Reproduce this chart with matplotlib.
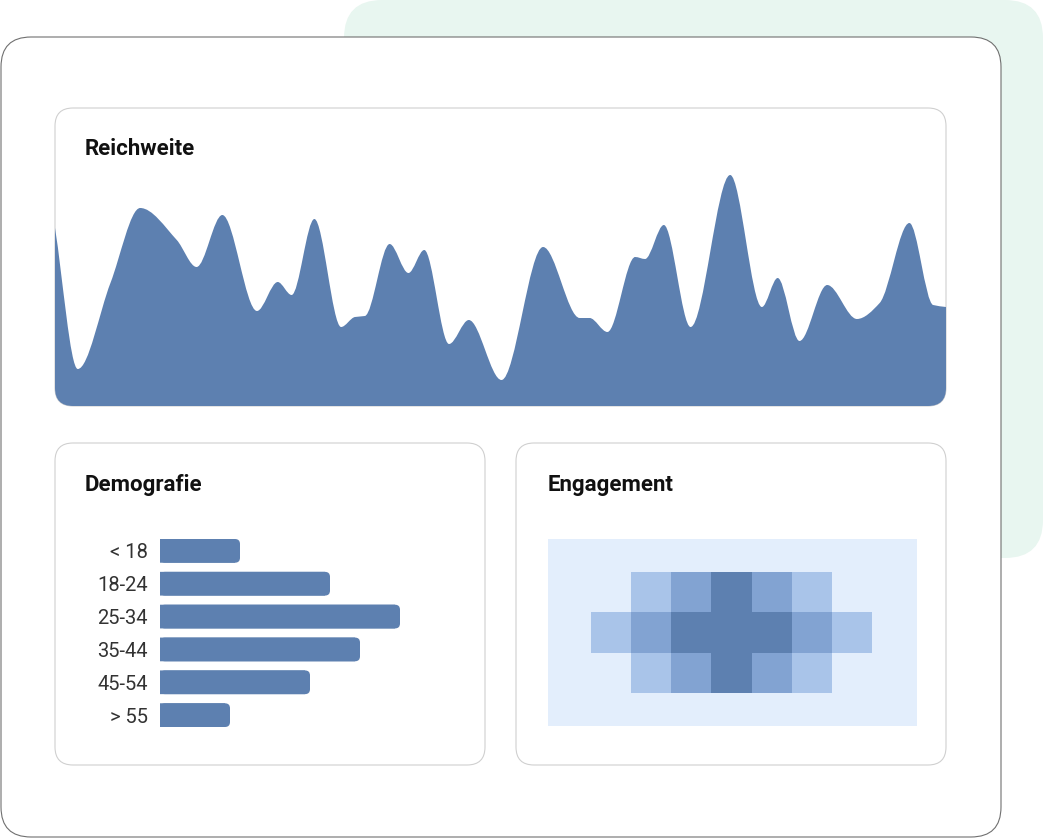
import numpy as np
import matplotlib.pyplot as plt
from matplotlib.patches import FancyBboxPatch, PathPatch
from matplotlib.path import Path
from matplotlib.colors import ListedColormap

W, H = 1043, 838
BLUE = '#5D80B0'
FONT = ['Roboto', 'DejaVu Sans']

# Reichweite (day, value)
reach_day = [0, 2.3, 5.6, 8.6, 12.3, 14.3, 16.9, 20.4, 22.5, 23.9, 26.2, 28.9,
             30.3, 31.3, 33.8, 35.7, 37.3, 39.8, 41.8, 45.1, 49.3, 53.0, 54.0,
             55.8, 58.6, 59.6, 61.5, 64.2, 68.2, 71.4, 73.0, 75.2, 78.0, 81.0,
             83.3, 86.3, 88.7, 90]
reach_value = [178, 37, 123, 198, 166, 139, 191, 95, 124, 111, 187, 79,
               89, 90, 162, 133, 156, 62, 86, 26, 159, 88, 88,
               74, 149, 147, 181, 79, 231, 99, 128, 65, 121, 87,
               103, 183, 101, 99]

# Demografie
age_groups = ['< 18', '18-24', '25-34', '35-44', '45-54', '> 55']
age_share = [8, 17, 24, 20, 15, 7]

# Engagement
engagement = [[0, 1, 2, 3, 2, 1, 0],
              [1, 2, 3, 3, 3, 2, 1],
              [0, 1, 2, 3, 2, 1, 0]]


def px_axes(fig, x0, y0, x1, y1):
    return fig.add_axes([x0 / W, 1 - y1 / H, (x1 - x0) / W, (y1 - y0) / H])


def monotone_slopes(x, y):
    x = np.asarray(x, float)
    y = np.asarray(y, float)
    h = np.diff(x)
    d = np.diff(y) / h
    m = np.zeros_like(y)
    m[0], m[-1] = d[0], d[-1]
    for i in range(1, len(y) - 1):
        if d[i - 1] * d[i] > 0:
            w1 = 2 * h[i] + h[i - 1]
            w2 = h[i] + 2 * h[i - 1]
            m[i] = (w1 + w2) / (w1 / d[i - 1] + w2 / d[i])
    return m


fig = plt.figure(figsize=(W / 100, H / 100), dpi=100)
bg = fig.add_axes([0, 0, 1, 1])
bg.set_xlim(0, W)
bg.set_ylim(H, 0)
bg.axis('off')

# cards
bg.add_patch(FancyBboxPatch((344, 0), 699, 558, boxstyle='round,pad=0,rounding_size=38',
                            fc='#E8F6F0', ec='none'))
bg.add_patch(FancyBboxPatch((1, 37), 1000, 800, boxstyle='round,pad=0,rounding_size=30',
                            fc='white', ec='#707070', lw=0.8))
panels = []
for x, y, w, h in [(55, 108, 891, 298), (55, 443, 430, 322), (516, 443, 430, 322)]:
    p = FancyBboxPatch((x, y), w, h, boxstyle='round,pad=0,rounding_size=18',
                       fc='white', ec='#D0D0D0', lw=0.8)
    bg.add_patch(p)
    panels.append(p)

for x, y, t in [(85, 149, 'Reichweite'), (85, 485, 'Demografie'), (548, 485, 'Engagement')]:
    bg.text(x, y, t, va='center', ha='left', fontsize=16, fontweight='bold',
            family=FONT, color='#111111')

# Reichweite area
ax_r = px_axes(fig, 55, 108, 946, 406)
ax_r.set_xlim(0, 90)
ax_r.set_ylim(0, 298)
ax_r.axis('off')
ax_r.patch.set_alpha(0)

xs = np.asarray(reach_day, float)
ys = np.asarray(reach_value, float)
ms = monotone_slopes(xs, ys)
verts = [(xs[0], 0), (xs[0], ys[0])]
codes = [Path.MOVETO, Path.LINETO]
for i in range(len(xs) - 1):
    dx = (xs[i + 1] - xs[i]) / 3
    verts += [(xs[i] + dx, ys[i] + ms[i] * dx),
              (xs[i + 1] - dx, ys[i + 1] - ms[i + 1] * dx),
              (xs[i + 1], ys[i + 1])]
    codes += [Path.CURVE4] * 3
verts += [(xs[-1], 0), (xs[0], 0)]
codes += [Path.LINETO, Path.CLOSEPOLY]
area = PathPatch(Path(verts, codes), fc=BLUE, ec='none')
ax_r.add_patch(area)
area.set_clip_path(panels[0])

# Demografie bars (square left end, rounded right end)
ax_b = px_axes(fig, 160, 539, 460, 727)
ax_b.set_xlim(0, 30)
ax_b.set_ylim(5.361, -0.361)
ax_b.patch.set_alpha(0)
bars = ax_b.barh(range(len(age_groups)), age_share, height=0.722, color=BLUE)
for r in bars:
    ax_b.add_patch(FancyBboxPatch((r.get_x(), r.get_y()), r.get_width(), r.get_height(),
                                  boxstyle='round,pad=0,rounding_size=0.5',
                                  mutation_aspect=10 / 32.8, fc=BLUE, ec='none',
                                  snap=False))
    r.set_snap(False)
    r.set_width(r.get_width() - 0.5)
ax_b.set_yticks(range(len(age_groups)))
ax_b.set_yticklabels(age_groups, fontsize=14.5, color='#333333', family=FONT,
                     fontweight='normal')
ax_b.tick_params(axis='y', length=0, pad=8.6)
ax_b.set_xticks([])
for s in ax_b.spines.values():
    s.set_visible(False)

# Engagement heatmap
ax_h = px_axes(fig, 548, 539, 917, 726)
ax_h.set_facecolor('#E3EEFC')
data = np.ma.masked_equal(np.array(engagement), 0)
cmap = ListedColormap(['#A9C4E9', '#82A3D2', '#5D80B0'])
ax_h.imshow(data, cmap=cmap, vmin=0.5, vmax=3.5, extent=(0, 7, 3, 0),
            aspect='auto', interpolation='nearest')
ax_h.set_xlim(-1.075, 8.15)
ax_h.set_ylim(3.825, -0.85)
ax_h.set_xticks([])
ax_h.set_yticks([])
for s in ax_h.spines.values():
    s.set_visible(False)

fig.savefig('out.png', dpi=100)
